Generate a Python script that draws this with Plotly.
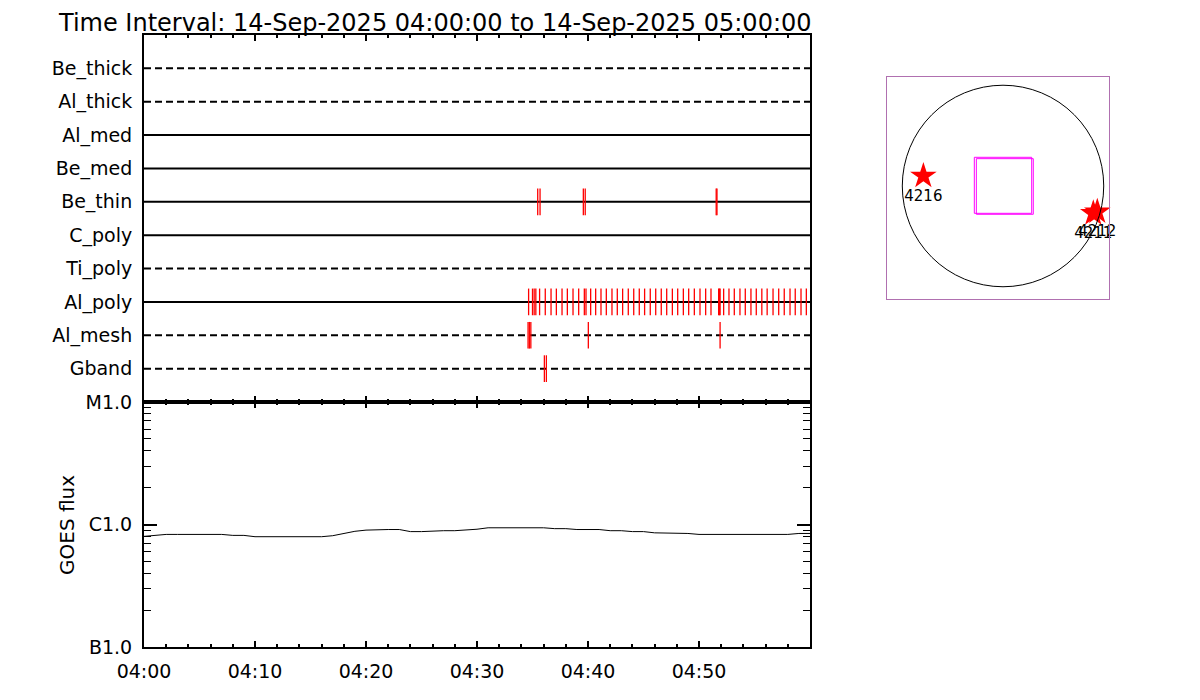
import plotly.graph_objects as go

# ---------------- data ----------------
channels = ["Gband", "Al_mesh", "Al_poly", "Ti_poly", "C_poly",
            "Be_thin", "Be_med", "Al_med", "Al_thick", "Be_thick"]
channel_dashed = [True, True, False, True, False, False, False, False, True, True]

# event times, minutes after 04:00
be_thin_events = [35.47, 35.68, 39.58, 39.75, 51.55, 51.62]
al_poly_events = [34.65, 35.0, 35.15, 35.3, 35.64, 36.15, 36.67, 37.15, 37.66, 38.14,
                  38.65, 39.16, 39.67, 39.82, 40.24, 40.69, 41.17, 41.65, 42.16, 42.64,
                  43.12, 43.63, 44.12, 44.62, 45.1, 45.61, 46.1, 46.6, 47.09, 47.6,
                  48.08, 48.59, 49.07, 49.58, 50.09, 50.6, 51.08, 51.77, 51.84, 51.9,
                  52.22, 52.70, 53.18, 53.69, 54.17, 54.68, 55.16, 55.66, 56.14, 56.67,
                  57.18, 57.68, 58.2, 58.67, 59.19, 59.67]
al_mesh_events = [34.6, 34.72, 34.85, 40.03, 51.9]
gband_events = [36.07, 36.25]

# GOES flux, one value per minute (W/m^2)
goes_minutes = list(range(61))
goes_flux = [0.80, 0.82, 0.83, 0.83, 0.83, 0.83, 0.83, 0.83, 0.815, 0.815,
             0.795, 0.795, 0.795, 0.795, 0.795, 0.795, 0.795, 0.81, 0.85, 0.88,
             0.90, 0.91, 0.91, 0.91, 0.875, 0.875, 0.885, 0.89, 0.89, 0.90,
             0.915, 0.94, 0.94, 0.94, 0.94, 0.94, 0.94, 0.925, 0.925, 0.91,
             0.91, 0.91, 0.89, 0.89, 0.875, 0.875, 0.855, 0.855, 0.845, 0.845,
             0.83, 0.83, 0.83, 0.83, 0.83, 0.83, 0.83, 0.83, 0.83, 0.845, 0.845]
goes_flux = [v * 1e-6 for v in goes_flux]

time_tickvals = [0, 10, 20, 30, 40, 50]
time_ticktext = ["04:00", "04:10", "04:20", "04:30", "04:40", "04:50"]
goes_tickvals = [1e-7, 1e-6, 1e-5]
goes_ticktext = ["B1.0", "C1.0", "M1.0"]
goes_minor = [2e-7, 3e-7, 4e-7, 5e-7, 6e-7, 7e-7, 8e-7, 9e-7,
              2e-6, 3e-6, 4e-6, 5e-6, 6e-6, 7e-6, 8e-6, 9e-6]

# solar disk panel (arcsec)
solar_radius = 955
fov_x0 = [-272, -253]
fov_x1 = [272, 287]
fov_y0 = [-259, -268]
fov_y1 = [272, 259]
ar_x = [-755, 856, 894]
ar_y = [95, -259, -244]
ar_labels = ["4216", "4211", "4212"]

title_text = "Time Interval: 14-Sep-2025 04:00:00 to 14-Sep-2025 05:00:00"

FONT = "DejaVu Sans"
# the page body has an 8px margin; size the figure to fill the window exactly
OFF = 8
W, H = 1200 - 2 * OFF, 700 - 2 * OFF

def px_x(p):
    return (p - OFF) / W

def px_y(p):
    return 1 - (p - OFF) / H

fig = go.Figure()

# channel base lines
for i, (name, dashed) in enumerate(zip(channels, channel_dashed)):
    fig.add_trace(go.Scatter(
        x=[0, 60], y=[i + 1, i + 1], mode="lines",
        line=dict(color="black", width=2, dash="7px,4px" if dashed else "solid"),
        xaxis="x", yaxis="y", showlegend=False, hoverinfo="skip"))

def add_events(times, chan):
    c = channels.index(chan) + 1
    xs, ys = [], []
    for t in times:
        xs += [t, t, None]
        ys += [c - 0.4, c + 0.4, None]
    fig.add_trace(go.Scatter(x=xs, y=ys, mode="lines",
                             line=dict(color="red", width=1.3),
                             xaxis="x", yaxis="y", showlegend=False, hoverinfo="skip"))

add_events(be_thin_events, "Be_thin")
add_events(al_poly_events, "Al_poly")
add_events(al_mesh_events, "Al_mesh")
add_events(gband_events, "Gband")

# GOES curve
fig.add_trace(go.Scatter(x=goes_minutes, y=goes_flux, mode="lines",
                         line=dict(color="black", width=1),
                         xaxis="x2", yaxis="y2", showlegend=False))

# solar disk: stars
fig.add_trace(go.Scatter(x=ar_x, y=ar_y, mode="markers+text", text=ar_labels,
                         textposition="bottom center",
                         textfont=dict(family=FONT, size=15, color="black"),
                         marker=dict(symbol="star", size=20, color="red"),
                         xaxis="x3", yaxis="y3", showlegend=False, cliponaxis=False))

shapes = [dict(type="circle", xref="x3", yref="y3",
               x0=-solar_radius, x1=solar_radius, y0=-solar_radius, y1=solar_radius,
               line=dict(color="black", width=1))]
for a, b, c, d in zip(fov_x0, fov_x1, fov_y0, fov_y1):
    shapes.append(dict(type="rect", xref="x3", yref="y3", x0=a, x1=b, y0=c, y1=d,
                       line=dict(color="#ff00ff", width=1)))

top_dom = [px_y(402), px_y(35)]
bot_dom = [px_y(647), px_y(402)]
xdom = [px_x(144), px_x(810)]

axis_font = dict(family=FONT, size=19, color="black")

fig.update_layout(
    width=W, height=H, autosize=False,
    margin=dict(l=0, r=0, t=0, b=0, pad=0, autoexpand=False),
    paper_bgcolor="white", plot_bgcolor="white",
    showlegend=False,
    shapes=shapes,
    xaxis=dict(domain=xdom, range=[0, 60], anchor="y", automargin=False,
               showline=True, linecolor="black", linewidth=2, mirror="ticks",
               ticks="inside", ticklen=6, tickwidth=2, tickcolor="black",
               tickvals=time_tickvals, showticklabels=False,
               minor=dict(dtick=2, ticks="inside", ticklen=3, tickwidth=2, tickcolor="black"),
               showgrid=False, zeroline=False, fixedrange=True),
    yaxis=dict(domain=top_dom, range=[0, 11], anchor="x", automargin=False,
               showline=True, linecolor="black", linewidth=2, mirror=True,
               tickvals=list(range(1, 11)), ticktext=channels, ticks="",
               tickfont=dict(family=FONT, size=19, color="black"),
               ticklabelstandoff=6,
               showgrid=False, zeroline=False),
    xaxis2=dict(domain=xdom, range=[0, 60], anchor="y2", automargin=False,
                showline=True, linecolor="black", linewidth=2, mirror="ticks",
                ticks="inside", ticklen=6, tickwidth=2, tickcolor="black",
                tickvals=time_tickvals, ticktext=time_ticktext,
                tickfont=axis_font, ticklabelstandoff=6,
                minor=dict(dtick=2, ticks="inside", ticklen=3, tickwidth=2, tickcolor="black"),
                showgrid=False, zeroline=False),
    yaxis2=dict(domain=bot_dom, type="log", range=[-7, -5], anchor="x2", automargin=False,
                showline=True, linecolor="black", linewidth=2, mirror="ticks",
                ticks="inside", ticklen=13, tickwidth=2, tickcolor="black",
                tickvals=goes_tickvals, ticktext=goes_ticktext,
                tickfont=axis_font, ticklabelstandoff=6,
                minor=dict(tickvals=goes_minor, ticks="inside", ticklen=7,
                           tickwidth=1, tickcolor="black"),
                showgrid=False, zeroline=False),
    xaxis3=dict(domain=[px_x(887), px_x(1109)], range=[-1100, 1005], anchor="y3",
                automargin=False,
                showline=True, linecolor="#b070b0", linewidth=1, mirror=True,
                showticklabels=False, ticks="", showgrid=False, zeroline=False),
    yaxis3=dict(domain=[px_y(299), px_y(77)], range=[-1071, 1033], anchor="x3",
                automargin=False,
                showline=True, linecolor="#b070b0", linewidth=1, mirror=True,
                showticklabels=False, ticks="", showgrid=False, zeroline=False),
    annotations=[
        dict(text=title_text, xref="paper", yref="paper", x=px_x(57), y=1.0,
             xanchor="left", yanchor="top", showarrow=False, borderpad=0,
             font=dict(family=FONT, size=24, color="black")),
        dict(text="GOES flux", xref="paper", yref="paper", x=px_x(67), y=px_y(525),
             xanchor="center", yanchor="middle", textangle=-90, showarrow=False,
             font=dict(family=FONT, size=20, color="black")),
    ],
)

fig.write_html("out.html")
